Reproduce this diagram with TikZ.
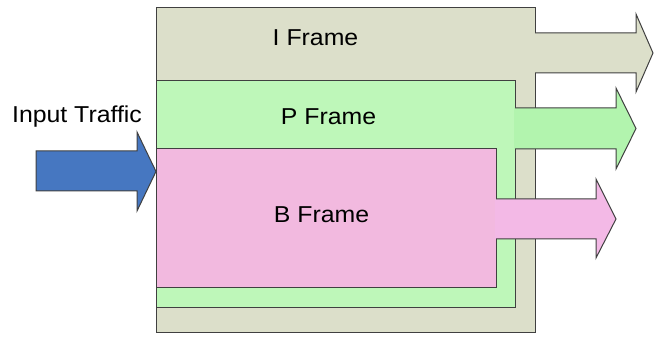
\documentclass[tikz,border=0pt]{standalone}
\usepackage{fontspec}
\usepackage{graphicx}
\usetikzlibrary{calc}
\setmainfont{Liberation Sans}
\definecolor{iframecol}{HTML}{DCDFCA}
\definecolor{pframecol}{HTML}{BEF7B9}
\definecolor{parrowcol}{HTML}{B2F4AE}
\definecolor{bframecol}{HTML}{F2B9DF}
\definecolor{barrowcol}{HTML}{F3B9E6}
\definecolor{inputcol}{HTML}{4677C1}
\definecolor{edgecol}{HTML}{404040}
\tikzset{
  framebox/.style={draw=edgecol, line width=1pt, inner sep=0pt, outer sep=0pt,
    anchor=north west, rectangle},
  outline/.style={draw=edgecol, line width=1pt, line join=miter},
  lbl/.style={anchor=base, inner sep=0pt, font=\fontsize{23}{27}\selectfont}
}
\newcommand{\stretched}[1]{\scalebox{1.08}[1]{#1}}
\begin{document}
\begin{tikzpicture}[x=1pt, y=-1pt]
  \useasboundingbox (0,0) rectangle (654,339);

  % I frame and its output arrow
  \node[framebox, fill=iframecol, minimum width=379pt, minimum height=325pt] (iframe) at (156,8) {};
  \fill[iframecol] ($(iframe.east |- 0,33)+(-1,0)$) -- (636,33) -- (636,14) -- (653,53)
     -- (636,92) -- (636,73) -- ($(iframe.east |- 0,73)+(-1,0)$) -- cycle;
  \draw[outline] (iframe.east |- 0,33) -- (636,33) -- (636,14) -- (653,53)
     -- (636,92) -- (636,73) -- (iframe.east |- 0,73);

  % P frame and its output arrow
  \node[framebox, fill=pframecol, minimum width=359pt, minimum height=227pt] (pframe) at (156,81) {};
  \fill[parrowcol] ($(pframe.east |- 0,108)+(-1,0)$) -- (616,108) -- (616,88) -- (636,128.5)
     -- (616,169) -- (616,149) -- ($(pframe.east |- 0,149)+(-1,0)$) -- cycle;
  \draw[outline] (pframe.east |- 0,108) -- (616,108) -- (616,88) -- (636,128.5)
     -- (616,169) -- (616,149) -- (pframe.east |- 0,149);

  % B frame and its output arrow
  \node[framebox, fill=bframecol, minimum width=340pt, minimum height=139pt] (bframe) at (156,149) {};
  \fill[barrowcol] ($(bframe.east |- 0,199)+(-1,0)$) -- (596,199) -- (596,179) -- (616,219)
     -- (596,258) -- (596,239) -- ($(bframe.east |- 0,239)+(-1,0)$) -- cycle;
  \draw[outline] (bframe.east |- 0,199) -- (596,199) -- (596,179) -- (616,219)
     -- (596,258) -- (596,239) -- (bframe.east |- 0,239);

  % incoming traffic arrow
  \coordinate (intail) at (36,171.5);
  \filldraw[outline, fill=inputcol] (intail |- 0,151) -- (137,151) -- (137,132)
     -- (bframe.west |- 0,171.5) -- (137,211) -- (137,191) -- (intail |- 0,191) -- cycle;

  % labels
  \node[lbl] (ilabel) at (315.5,46) {\stretched{I Frame}};
  \node[lbl] (plabel) at (328.5,125) {\stretched{P Frame}};
  \node[lbl] (blabel) at (321.5,223) {\stretched{B Frame}};
  \node[lbl] (inlabel) at (77,123) {\stretched{Input Traffic}};
\end{tikzpicture}
\end{document}
